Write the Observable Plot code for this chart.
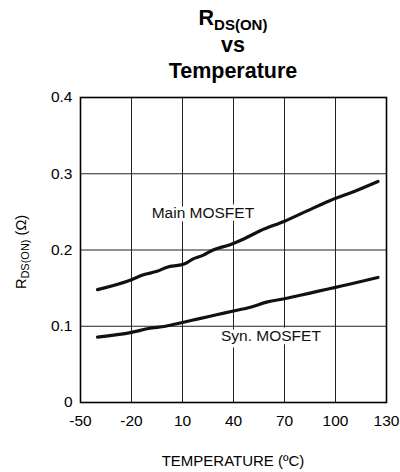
<!DOCTYPE html>
<html>
<head>
<meta charset="utf-8">
<script src="https://cdn.jsdelivr.net/npm/d3@7"></script>
<script src="https://cdn.jsdelivr.net/npm/@observablehq/plot@0.6"></script>
<style>
  html, body { margin: 0; padding: 0; background: #fff; }
  #chart { width: 400px; height: 472px; }
  svg { font-family: Arial, "Liberation Sans", Helvetica, sans-serif; }
</style>
</head>
<body>
<div id="chart"></div>
<script>
// ---- data ----
const xTicks = [-50, -20, 10, 40, 70, 100, 130];
const yTicks = [0, 0.1, 0.2, 0.3, 0.4];

const mainTemps = [-40, -20, -13, -5, 1, 9, 12, 16, 22, 28, 38, 46, 56, 70, 83, 97, 111, 125];
const mainRds   = [0.148, 0.161, 0.1675, 0.172, 0.1775, 0.1805, 0.1827, 0.188, 0.193, 0.200, 0.207, 0.2145, 0.2255, 0.2378, 0.251, 0.265, 0.2767, 0.2898];

const synTemps = [-40, -20, -10, 0, 10, 20, 30, 40, 50, 60, 70, 80, 90, 100, 110, 125];
const synRds   = [0.0857, 0.092, 0.097, 0.100, 0.105, 0.110, 0.115, 0.120, 0.125, 0.132, 0.136, 0.141, 0.146, 0.151, 0.156, 0.164];

const seriesNames = ["Main MOSFET", "Syn. MOSFET"];
const labelTemps = [22, 62];
const labelRds = [0.249, 0.087];

// ---- build tables ----
const mainData = mainTemps.map((t, i) => ({t, r: mainRds[i]}));
const synData = synTemps.map((t, i) => ({t, r: synRds[i]}));
const labels = seriesNames.map((name, i) => ({name, t: labelTemps[i], r: labelRds[i]}));

const plot = Plot.plot({
  width: 400,
  height: 472,
  marginTop: 97,
  marginBottom: 70,
  marginLeft: 80,
  marginRight: 14,
  style: {fontFamily: "Arial, 'Liberation Sans', Helvetica, sans-serif", fontSize: "15px", color: "#000", background: "#fff"},
  x: {domain: [-50, 130], ticks: xTicks, label: null},
  y: {domain: [0, 0.4], ticks: yTicks, label: null},
  marks: [
    Plot.gridX(xTicks, {stroke: "#222", strokeOpacity: 1, strokeWidth: 1}),
    Plot.gridY(yTicks, {stroke: "#222", strokeOpacity: 1, strokeWidth: 1}),
    Plot.axisX({ticks: xTicks, tickSize: 0, tickPadding: 12, fontSize: 15.5, tickFormat: d => String(d), label: null}),
    Plot.axisY({ticks: yTicks, tickSize: 0, tickPadding: 8, fontSize: 15.5, tickFormat: d => d === 0 ? "0" : d.toFixed(1), label: null}),
    Plot.line(mainData, {x: "t", y: "r", stroke: "#111", strokeWidth: 3.2, curve: "monotone-x"}),
    Plot.line(synData, {x: "t", y: "r", stroke: "#111", strokeWidth: 3.2, curve: "monotone-x"}),
    Plot.text(labels, {x: "t", y: "r", text: "name", fontSize: 15.5, fill: "#111", stroke: "white", strokeWidth: 7, paintOrder: "stroke"}),
    Plot.frame({stroke: "#000", strokeWidth: 1.6})
  ]
});

document.getElementById("chart").appendChild(plot);

// ---- titles and axis labels with subscripts ----
const svg = d3.select(plot);
const cx = 233;
const t1 = svg.append("text").attr("x", cx).attr("y", 25).attr("text-anchor", "middle")
  .attr("font-weight", "bold").attr("font-size", 21.5).attr("fill", "#000");
t1.append("tspan").text("R");
t1.append("tspan").attr("font-size", 15).attr("dy", 5).text("DS(ON)");
svg.append("text").attr("x", cx).attr("y", 52).attr("text-anchor", "middle")
  .attr("font-weight", "bold").attr("font-size", 21.5).attr("fill", "#000").text("vs");
svg.append("text").attr("x", cx).attr("y", 78).attr("text-anchor", "middle")
  .attr("font-weight", "bold").attr("font-size", 21.5).attr("fill", "#000").text("Temperature");

svg.append("text").attr("x", cx).attr("y", 466).attr("text-anchor", "middle")
  .attr("font-size", 15).attr("fill", "#000").text("TEMPERATURE (ºC)");

const yl = svg.append("text").attr("transform", "translate(26,252) rotate(-90)")
  .attr("text-anchor", "middle").attr("font-size", 14.5).attr("fill", "#000");
yl.append("tspan").text("R");
yl.append("tspan").attr("font-size", 11).attr("dy", 3).text("DS(ON)");
yl.append("tspan").attr("dy", -3).text(" (Ω)");
</script>
</body>
</html>
